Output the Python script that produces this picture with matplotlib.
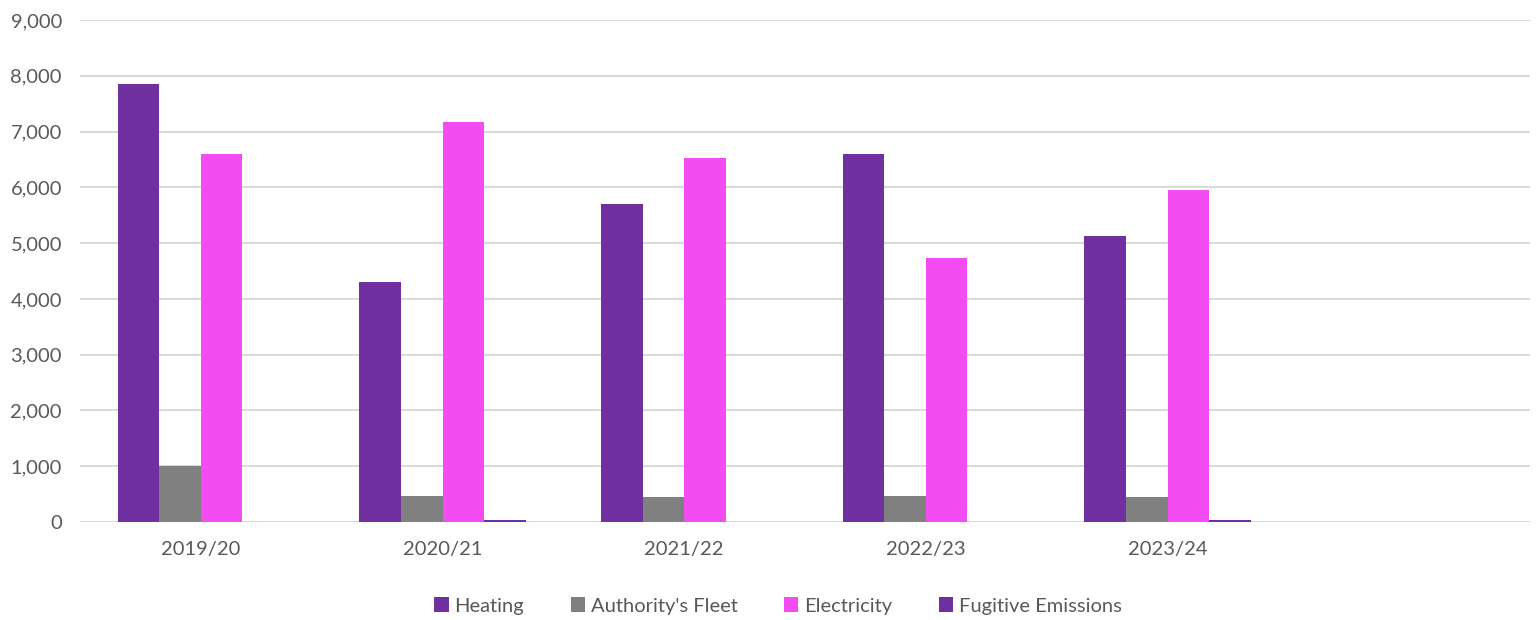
import matplotlib
matplotlib.use("Agg")
import matplotlib.pyplot as plt
import numpy as np
from matplotlib.ticker import FuncFormatter

categories = ["2019/20", "2020/21", "2021/22", "2022/23", "2023/24", ""]
heating = [7850, 4300, 5700, 6590, 5120, 0]
fleet = [1010, 470, 440, 470, 440, 0]
electricity = [6600, 7170, 6520, 4730, 5950, 0]
fugitive = [0, 40, 0, 0, 40, 0]

series = [("Heating", heating, "#7030A0"),
          ("Authority's Fleet", fleet, "#808080"),
          ("Electricity", electricity, "#F24CF2"),
          ("Fugitive Emissions", fugitive, "#7030A0")]

plt.rcParams['font.family'] = ['Lato', 'DejaVu Sans']
fig = plt.figure(figsize=(15.37, 6.2), dpi=100)
ax = fig.add_axes([80/1537, 1-522/620, 1450/1537, 502/620])

x = np.arange(len(categories))
w = 0.172
for i, (name, vals, col) in enumerate(series):
    ax.bar(x + (i - 1.5) * w, vals, width=w, color=col, label=name, zorder=3)

ax.set_xlim(-0.5, len(categories) - 0.5)
ax.set_ylim(0, 9000)
ax.set_yticks(np.arange(0, 9001, 1000))
ax.yaxis.set_major_formatter(FuncFormatter(lambda v, p: f"{int(v):,}"))
ax.set_xticks(x)
ax.set_xticklabels(categories)
ax.grid(axis='y', color='#D9D9D9', linewidth=1.4, zorder=0)
for s in ax.spines.values():
    s.set_visible(False)
ax.tick_params(axis='both', length=0, labelsize=14.5, colors='#595959')
ax.tick_params(axis='x', pad=14)
ax.tick_params(axis='y', pad=13)

leg = ax.legend(loc='center', bbox_to_anchor=(778/1537, 1-606/620), bbox_transform=fig.transFigure,
                ncol=4, frameon=False, fontsize=14.5, handlelength=0.7, handleheight=0.7,
                handletextpad=0.3, columnspacing=2.3)
for t in leg.get_texts():
    t.set_color('#595959')

fig.savefig("out.png", dpi=100)
